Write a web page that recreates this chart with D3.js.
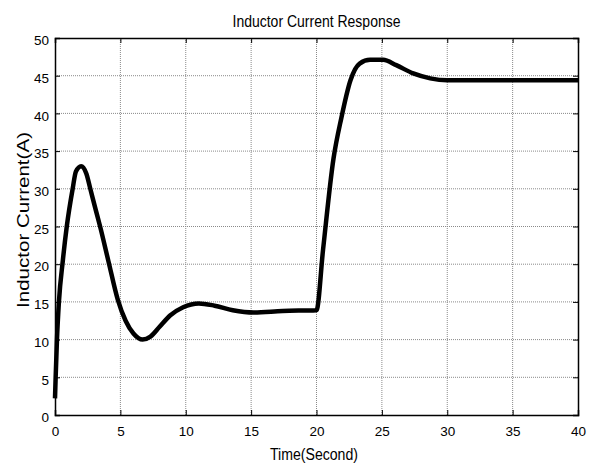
<!DOCTYPE html>
<html>
<head>
<meta charset="utf-8">
<script src="https://cdn.jsdelivr.net/npm/d3@7"></script>
<style>
  html, body { margin: 0; padding: 0; background: #fff; }
  svg { display: block; font-family: 'Liberation Sans', Arial, sans-serif; }
</style>
</head>
<body>
<svg id="chart"></svg>
<script>
const WIDTH = 594
const HEIGHT = 464
const MARGIN = { top: 38, right: 16, bottom: 49, left: 55 }

// Data
const timeSec = [0, 0.05, 0.15, 0.3, 0.6, 0.9, 1.35, 1.6, 2.0, 2.4, 2.7, 3.1, 3.45, 4.1, 4.8, 5.4, 6.0, 6.7, 7.3, 8.0, 8.8, 9.8, 11.0, 12.2, 13.6, 15.2, 17.4, 20.0, 20.5, 21.3, 21.9, 22.6, 23.3, 24.1, 25.1, 26.1, 27.4, 28.7, 30, 35, 40]
const currentA = [2.2, 5, 10, 15, 20.5, 25, 30, 32.3, 33, 32.0, 30, 27.3, 25, 20.3, 15.3, 12.5, 10.8, 10, 10.4, 11.7, 13.2, 14.3, 14.8, 14.5, 13.9, 13.6, 13.8, 13.9, 21.9, 34, 39.4, 44.4, 46.6, 47.1, 47.1, 46.4, 45.3, 44.65, 44.4, 44.4, 44.4]
const xTicks = [0, 5, 10, 15, 20, 25, 30, 35, 40]
const yTicks = [0, 5, 10, 15, 20, 25, 30, 35, 40, 45, 50]

const title = 'Inductor Current Response'
const xLabel = 'Time(Second)'
const yLabel = 'Inductor Current(A)'

const innerWidth = WIDTH - MARGIN.left - MARGIN.right
const innerHeight = HEIGHT - MARGIN.top - MARGIN.bottom

const svg = d3.select('#chart').attr('width', WIDTH).attr('height', HEIGHT)
const g = svg.append('g').attr('transform', `translate(${MARGIN.left},${MARGIN.top})`)

const x = d3.scaleLinear().domain([0, 40]).range([0, innerWidth])
const y = d3.scaleLinear().domain([0, 50]).range([innerHeight, 0])

// Grid (dotted, MATLAB style)
g.append('g').selectAll('line').data(xTicks.slice(1, -1)).enter()
    .append('line')
    .attr('x1', d => x(d)).attr('x2', d => x(d))
    .attr('y1', 0).attr('y2', innerHeight)
    .attr('stroke', '#8a8a8a').attr('stroke-width', 1)
    .attr('stroke-dasharray', '1,1')
g.append('g').selectAll('line').data(yTicks.slice(1, -1)).enter()
    .append('line')
    .attr('x1', 0).attr('x2', innerWidth)
    .attr('y1', d => y(d)).attr('y2', d => y(d))
    .attr('stroke', '#8a8a8a').attr('stroke-width', 1)
    .attr('stroke-dasharray', '1,1')

// Curve
const line = d3.line()
    .x((d, i) => x(timeSec[i]))
    .y(d => y(d))
    .curve(d3.curveMonotoneX)

g.append('path').datum(currentA)
    .attr('fill', 'none')
    .attr('stroke', '#000')
    .attr('stroke-width', 4.5)
    .attr('stroke-linejoin', 'round')
    .attr('d', line)

// Axes: ticks inside, on all four sides
const tickSize = 5
const axisBottomG = g.append('g').attr('transform', `translate(0,${innerHeight})`)
    .call(d3.axisBottom(x).tickValues(xTicks).tickSize(-tickSize).tickPadding(11))
const axisTopG = g.append('g')
    .call(d3.axisTop(x).tickValues(xTicks).tickSize(-tickSize))
const axisLeftG = g.append('g')
    .call(d3.axisLeft(y).tickValues(yTicks).tickSize(-tickSize).tickPadding(6))
const axisRightG = g.append('g').attr('transform', `translate(${innerWidth},0)`)
    .call(d3.axisRight(y).tickValues(yTicks).tickSize(-tickSize))

// top/right carry ticks only
axisTopG.selectAll('text').remove()
axisRightG.selectAll('text').remove()

;[axisBottomG, axisTopG, axisLeftG, axisRightG].forEach(a => {
    a.select('.domain').attr('stroke', '#000').attr('stroke-width', 1.5)
    a.selectAll('.tick line').attr('stroke', '#000')
    a.selectAll('text').attr('fill', '#000')
        .style('font-size', '13.5px')
})
axisLeftG.selectAll('text').attr('dy', '0.5em')

// Title and labels
svg.append('text')
    .attr('x', MARGIN.left + innerWidth / 2).attr('y', 27)
    .attr('text-anchor', 'middle')
    .attr('textLength', 168).attr('lengthAdjust', 'spacingAndGlyphs')
    .style('font-size', '16px')
    .text(title)

svg.append('text')
    .attr('x', 314).attr('y', 460)
    .attr('text-anchor', 'middle')
    .attr('textLength', 88).attr('lengthAdjust', 'spacingAndGlyphs')
    .style('font-size', '16px')
    .text(xLabel)

svg.append('text')
    .attr('transform', `translate(29,220) rotate(-90)`)
    .attr('text-anchor', 'middle')
    .attr('textLength', 176).attr('lengthAdjust', 'spacingAndGlyphs')
    .style('font-size', '16.5px')
    .text(yLabel)
</script>
</body>
</html>
